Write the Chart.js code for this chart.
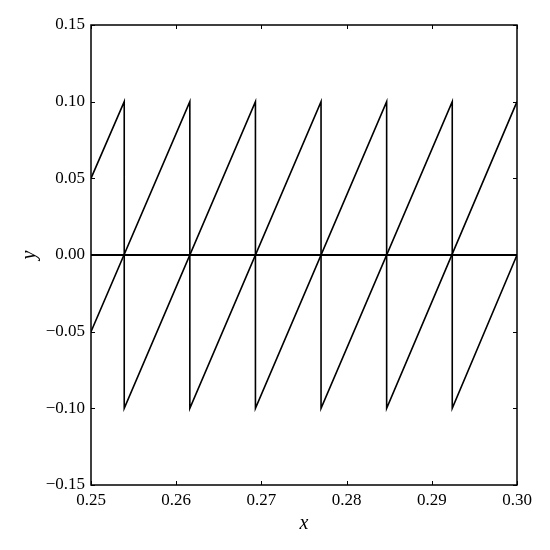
<!DOCTYPE html>
<html>
<head>
<meta charset="utf-8">
<script src="https://cdn.jsdelivr.net/npm/chart.js@4"></script>
<style>
  html, body { margin: 0; padding: 0; background: #fff; }
  #wrap { width: 550px; height: 550px; }
</style>
</head>
<body>
<div id="wrap"><canvas id="chart" width="550" height="550"></canvas></div>
<script>
// sawtooth A
const sawAx = [0.25, 0.2539, 0.2539, 0.2693, 0.2693, 0.2847, 0.2847, 0.30];
const sawAy = [0.05, 0.10, -0.10, 0.10, -0.10, 0.10, -0.10, 0.10];
// sawtooth B
const sawBx = [0.25, 0.2616, 0.2616, 0.2770, 0.2770, 0.2924, 0.2924, 0.30];
const sawBy = [-0.05, 0.10, -0.10, 0.10, -0.10, 0.10, -0.10, 0.0];
// zero line
const zeroX = [0.25, 0.30];
const zeroY = [0.0, 0.0];

const xTicks = [0.25, 0.26, 0.27, 0.28, 0.29, 0.30];
const yTicks = [-0.15, -0.10, -0.05, 0.00, 0.05, 0.10, 0.15];

const toPts = (xs, ys) => xs.map((x, i) => ({x: x, y: ys[i]}));
const fmt = v => (v < 0 ? '\u2212' : '') + Math.abs(v).toFixed(2);
const serif = "'Liberation Serif', 'DejaVu Serif', serif";

// frame + inward ticks on all four sides, matplotlib classic look
const framePlugin = {
    id: 'frame',
    afterDatasetsDraw(chart) {
        const {ctx, chartArea: a, scales} = chart;
        ctx.save();
        ctx.strokeStyle = '#000';
        ctx.lineWidth = 1;
        ctx.beginPath();
        xTicks.forEach(v => {
            const px = Math.round(scales.x.getPixelForValue(v)) + 0.5;
            ctx.moveTo(px, a.bottom); ctx.lineTo(px, a.bottom - 4);
            ctx.moveTo(px, a.top); ctx.lineTo(px, a.top + 4);
        });
        yTicks.forEach(v => {
            const py = Math.round(scales.y.getPixelForValue(v)) + 0.5;
            ctx.moveTo(a.left, py); ctx.lineTo(a.left + 4, py);
            ctx.moveTo(a.right, py); ctx.lineTo(a.right - 4, py);
        });
        ctx.stroke();
        ctx.lineWidth = 1.5;
        ctx.strokeRect(a.left, a.top, a.right - a.left, a.bottom - a.top);
        ctx.restore();
    }
};

const line = (data, w) => ({
    data: data,
    showLine: true,
    borderColor: '#000',
    borderWidth: w,
    pointRadius: 0,
    fill: false,
    tension: 0
});

new Chart(document.getElementById('chart').getContext('2d'), {
    type: 'scatter',
    data: {
        datasets: [
            line(toPts(zeroX, zeroY), 2),
            line(toPts(sawAx, sawAy), 1.6),
            line(toPts(sawBx, sawBy), 1.6)
        ]
    },
    options: {
        responsive: false,
        animation: false,
        layout: {padding: {left: 0, top: 25, right: 33, bottom: 0}},
        plugins: {
            legend: {display: false},
            tooltip: {enabled: false}
        },
        scales: {
            x: {
                type: 'linear',
                min: 0.25,
                max: 0.30,
                afterBuildTicks: s => { s.ticks = xTicks.map(v => ({value: v})); },
                afterFit: s => { s.height = 65; },
                grid: {display: false, drawTicks: false},
                border: {display: false},
                ticks: {
                    color: '#000',
                    padding: 5,
                    maxRotation: 0,
                    font: {family: serif, size: 17},
                    callback: v => fmt(v)
                },
                title: {
                    display: true,
                    text: 'x',
                    color: '#000',
                    padding: {top: 0, bottom: 14},
                    font: {family: serif, size: 20, style: 'italic'}
                }
            },
            y: {
                type: 'linear',
                min: -0.15,
                max: 0.15,
                afterBuildTicks: s => { s.ticks = yTicks.map(v => ({value: v})); },
                afterFit: s => { s.width = 91; },
                grid: {display: false, drawTicks: false},
                border: {display: false},
                ticks: {
                    color: '#000',
                    padding: 6,
                    font: {family: serif, size: 17},
                    callback: v => fmt(v)
                },
                title: {
                    display: true,
                    text: 'y',
                    color: '#000',
                    padding: {top: 18, bottom: 0},
                    font: {family: serif, size: 20, style: 'italic'}
                }
            }
        }
    },
    plugins: [framePlugin]
});
</script>
</body>
</html>
